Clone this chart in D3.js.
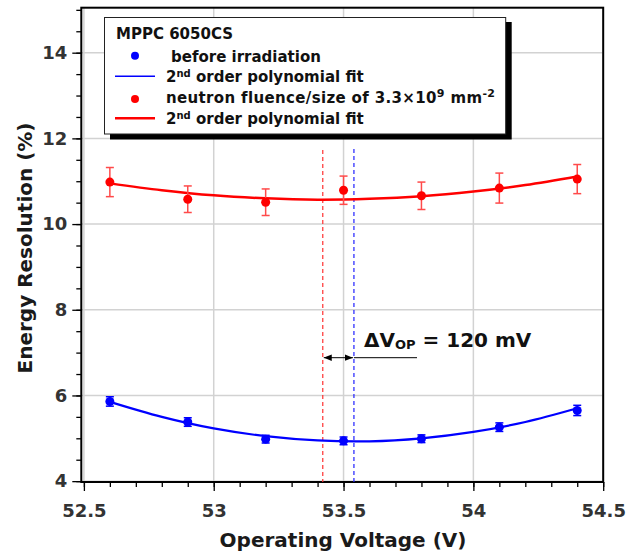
<!DOCTYPE html>
<html><head><meta charset="utf-8">
<script src="https://cdn.jsdelivr.net/npm/d3@7"></script>
<style>
body{margin:0;background:#fff}
text{font-family:"DejaVu Sans",Verdana,sans-serif;font-weight:bold}
</style>
</head><body><svg id="c" width="627" height="552"></svg>
<script>
// ---- data ----
const voltages = [52.6, 52.9, 53.2, 53.5, 53.8, 54.1, 54.4];
const beforeRes = [5.86, 5.38, 4.98, 4.94, 4.99, 5.26, 5.65];
const beforeErr = [0.11, 0.10, 0.09, 0.09, 0.09, 0.10, 0.12];
const afterRes  = [10.98, 10.58, 10.51, 10.79, 10.66, 10.84, 11.05];
const afterErr  = [0.34, 0.31, 0.31, 0.33, 0.32, 0.35, 0.34];
const fitV      = [52.6, 52.8, 53.0, 53.2, 53.4, 53.6, 53.8, 54.0, 54.2, 54.4];
const fitBefore = [5.85, 5.50, 5.23, 5.05, 4.95, 4.93, 5.00, 5.15, 5.38, 5.70];
const fitAfter  = [10.95, 10.79, 10.67, 10.60, 10.57, 10.59, 10.65, 10.76, 10.91, 11.11];
const optAfter = 53.42, optBefore = 53.54;
const xTicks = [52.5, 53, 53.5, 54, 54.5];
const xMinor = d3.range(52.5, 54.51, 0.1).map(v => +v.toFixed(1));
const yTicks = [4, 6, 8, 10, 12, 14];
const yMinor = d3.range(4, 15.01, 0.5);

const svg = d3.select("#c");
const x = d3.scaleLinear().domain([52.49, 54.5]).range([81.3, 603.2]);
const y = d3.scaleLinear().domain([3.98, 15.05]).range([482, 7.7]);
const [x0, x1] = x.range(), [y0, y1] = y.range();

// grid
const g = svg.append("g");
g.selectAll(".gx").data(xTicks).join("line")
  .attr("x1", d => x(d)).attr("x2", d => x(d)).attr("y1", y0).attr("y2", y1)
  .attr("stroke", "#d2d2d2").attr("stroke-width", 1.5);
g.selectAll(".gy").data(yTicks).join("line")
  .attr("y1", d => y(d)).attr("y2", d => y(d)).attr("x1", x0).attr("x2", x1)
  .attr("stroke", "#d2d2d2").attr("stroke-width", 1.5);

// axes
function styleAxis(sel){
  sel.select(".domain").remove();
  sel.selectAll("line").attr("stroke","#000").attr("stroke-width",1.3);
  sel.selectAll("text").attr("font-size","18px").attr("fill","#333");
}
svg.append("g").attr("transform",`translate(0,${y0})`)
  .call(d3.axisBottom(x).tickValues(xMinor).tickSize(5).tickFormat(""))
  .call(styleAxis);
svg.append("g").attr("transform",`translate(0,${y0})`)
  .call(d3.axisBottom(x).tickValues(xTicks).tickSize(9).tickPadding(13).tickFormat(d3.format("")))
  .call(styleAxis);
svg.append("g").attr("transform",`translate(${x0},0)`)
  .call(d3.axisLeft(y).tickValues(yMinor).tickSize(5).tickFormat(""))
  .call(styleAxis);
svg.append("g").attr("transform",`translate(${x0},0)`)
  .call(d3.axisLeft(y).tickValues(yTicks).tickSize(9).tickPadding(5).tickFormat(d3.format("")))
  .call(styleAxis);

// frame
svg.append("rect").attr("x", x0).attr("y", y1).attr("width", x1 - x0).attr("height", y0 - y1)
  .attr("fill","none").attr("stroke","#000").attr("stroke-width",2);

// axis titles
svg.append("text").attr("x", 343).attr("y", 547).attr("text-anchor","middle")
  .attr("font-size","20px").attr("fill","#1a1a1a").text("Operating Voltage (V)");
svg.append("text").attr("transform","translate(32,248) rotate(-90)").attr("text-anchor","middle")
  .attr("font-size","20px").attr("fill","#1a1a1a").text("Energy Resolution (%)");

// dashed optimum lines
svg.append("line").attr("x1", x(optAfter)).attr("x2", x(optAfter)).attr("y1", 150).attr("y2", y0)
  .attr("stroke","#ff3030").attr("stroke-width",1.2).attr("stroke-dasharray","4,3");
svg.append("line").attr("x1", x(optBefore)).attr("x2", x(optBefore)).attr("y1", 149).attr("y2", y0)
  .attr("stroke","#2020ff").attr("stroke-width",1.2).attr("stroke-dasharray","4,3");

// fit lines
const line = d3.line().x((d,i) => x(fitV[i])).y(d => y(d)).curve(d3.curveCatmullRom);
svg.append("path").attr("d", line(fitAfter)).attr("fill","none").attr("stroke","#ff0000").attr("stroke-width",2.5);
svg.append("path").attr("d", line(fitBefore)).attr("fill","none").attr("stroke","#0000ff").attr("stroke-width",2.2);

// error bars + points
function series(vals, errs, color, errColor){
  const s = svg.append("g");
  vals.forEach((v,i) => {
    const cx = x(voltages[i]);
    s.append("line").attr("x1",cx).attr("x2",cx).attr("y1",y(v-errs[i])).attr("y2",y(v+errs[i]))
      .attr("stroke",errColor).attr("stroke-width",1.5);
    [v-errs[i], v+errs[i]].forEach(e => s.append("line").attr("x1",cx-4).attr("x2",cx+4)
      .attr("y1",y(e)).attr("y2",y(e)).attr("stroke",errColor).attr("stroke-width",1.5));
  });
  s.selectAll("circle").data(vals).join("circle")
    .attr("cx",(d,i)=>x(voltages[i])).attr("cy",d=>y(d)).attr("r",4.5).attr("fill",color);
}
series(afterRes, afterErr, "#ff0000", "#ff4a4a");
series(beforeRes, beforeErr, "#0000ff", "#0000ff");

// annotation
const ay = 357.7;
svg.append("defs").html(`<marker id="ah" viewBox="0 0 10 10" refX="10" refY="5" markerWidth="8" markerHeight="8" orient="auto-start-reverse"><path d="M0,1 L10,5 L0,9 Z" fill="#000"/></marker>`);
svg.append("line").attr("x1", x(optAfter)+1).attr("x2", x(optBefore)-1).attr("y1", ay).attr("y2", ay)
  .attr("stroke","#000").attr("stroke-width",1).attr("marker-start","url(#ah)").attr("marker-end","url(#ah)");
svg.append("line").attr("x1", x(optBefore)).attr("x2", 417).attr("y1", ay).attr("y2", ay)
  .attr("stroke","#000").attr("stroke-width",1);
const at = svg.append("text").attr("x", 364).attr("y", 346.5).attr("font-size","20px").attr("fill","#111");
at.append("tspan").text("ΔV");
at.append("tspan").attr("font-size","13px").attr("dy", 2).text("OP");
at.append("tspan").attr("dy", -2).text(" = 120 mV");

// legend
const lg = svg.append("g");
lg.append("rect").attr("x",110).attr("y",22).attr("width",401.7).attr("height",117.5).attr("fill","#000");
lg.append("rect").attr("x",104.5).attr("y",17.5).attr("width",401.2).attr("height",116.5)
  .attr("fill","#fff").attr("stroke","#222").attr("stroke-width",1);
lg.append("text").attr("x",116).attr("y",39.3).attr("font-size","15px").attr("fill","#111").text("MPPC 6050CS");
lg.append("circle").attr("cx",135).attr("cy",55.7).attr("r",4).attr("fill","#0000ff");
lg.append("text").attr("x",171).attr("y",61.7).attr("font-size","15px").attr("fill","#111").text("before irradiation");
lg.append("line").attr("x1",115).attr("x2",155).attr("y1",76.3).attr("y2",76.3).attr("stroke","#0000ff").attr("stroke-width",1.5);
function fitText(yy){
  const t = lg.append("text").attr("x",166).attr("y",yy).attr("font-size","15px").attr("fill","#111");
  t.append("tspan").text("2");
  t.append("tspan").attr("font-size","10px").attr("dy",-5).text("nd");
  t.append("tspan").attr("dy",5).text(" order polynomial fit");
}
fitText(82.3);
lg.append("circle").attr("cx",135).attr("cy",99).attr("r",4).attr("fill","#ff0000");
const nt = lg.append("text").attr("x",166).attr("y",103.3).attr("font-size","15px").attr("fill","#111")
  .attr("letter-spacing","0.35px");
nt.append("tspan").text("neutron fluence/size of 3.3×10");
nt.append("tspan").attr("font-size","11px").attr("dy",-6).text("9");
nt.append("tspan").attr("dy",6).text(" mm");
nt.append("tspan").attr("font-size","11px").attr("dy",-6).text("-2");
lg.append("line").attr("x1",115).attr("x2",155).attr("y1",118.3).attr("y2",118.3).attr("stroke","#ff0000").attr("stroke-width",2.5);
fitText(124.3);
</script>
</body></html>
